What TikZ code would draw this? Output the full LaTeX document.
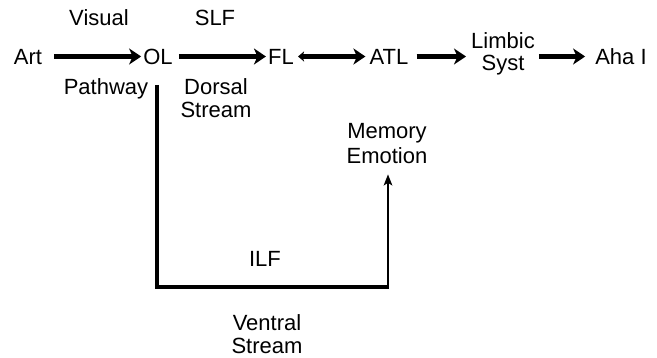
\documentclass[tikz,border=0pt]{standalone}
\usepackage{fontspec}
\setmainfont{Liberation Sans}
\usetikzlibrary{arrows.meta}
\begin{document}
\begin{tikzpicture}[x=1pt,y=-1pt,
  every node/.style={inner sep=0pt, font=\fontsize{22}{23}\selectfont},
  rowitem/.style={anchor=base, text height=17pt, text depth=0pt},
  lbl/.style={anchor=base},
  stack/.style={align=center},
  bighead/.tip={Stealth[length=12pt,width=16pt,inset=3.5pt]},
  flow/.style={line width=4.8pt, -bighead},
  tract/.style={line width=4.2pt, line cap=butt},
  rise/.style={line width=2.6pt, -{Stealth[length=11pt,width=8.5pt,inset=2.5pt]}},
]
\useasboundingbox (0,0) rectangle (657,358);

% main row
\node[rowitem] (art) at (28,65) {Art};
\node[rowitem] (ol)  at (158,65) {OL};
\node[rowitem] (fl)  at (281,65) {FL};
\node[rowitem] (atl) at (389,65) {ATL};
\node[stack, font=\fontsize{22}{22}\selectfont] (limbic) at (503,54.3) {Limbic\\Syst};
\node[rowitem] (aha) at (621,65) {Aha I};

% labels
\node[lbl] (visual) at (99,26) {Visual};
\node[lbl] (slf) at (215,26) {SLF};
\node[lbl] (pathway) at (106,95) {Pathway};
\node[stack] (dorsal) at (216,98.5) {Dorsal\\Stream};
\node[stack, font=\fontsize{22}{25}\selectfont] (memory) at (387,144) {Memory\\Emotion};
\node[lbl] (ilf) at (265,267) {ILF};
\node[stack] (ventral) at (267,333.7) {Ventral\\Stream};

% arrows along the row
\draw[flow] ([xshift=12pt]art.east) -- ([xshift=-2pt]ol.west);
\draw[flow] ([xshift=6pt]ol.east) -- ([xshift=-2pt]fl.west);
\draw[line width=4.8pt, {Stealth[length=6pt,width=10pt,inset=1.5pt]}-bighead]
  ([xshift=4pt]fl.east) -- ([xshift=-4pt]atl.west);
\draw[flow] ([xshift=8pt]atl.east) -- ([xshift=-5pt]limbic.west |- atl);
\draw[flow] ([xshift=4pt]limbic.east |- atl) -- ([xshift=-10pt]aha.west);

% ventral stream path
\coordinate (v0) at (157,85);
\coordinate (v1) at (157,287);
\coordinate (v2) at (388,287);
\draw[tract] (v0) -- (v1) -- ([xshift=1.3pt]v2);
\draw[rise] ([yshift=1pt]v2) -- ([yshift=-10pt]memory.south -| v2);
\end{tikzpicture}
\end{document}
